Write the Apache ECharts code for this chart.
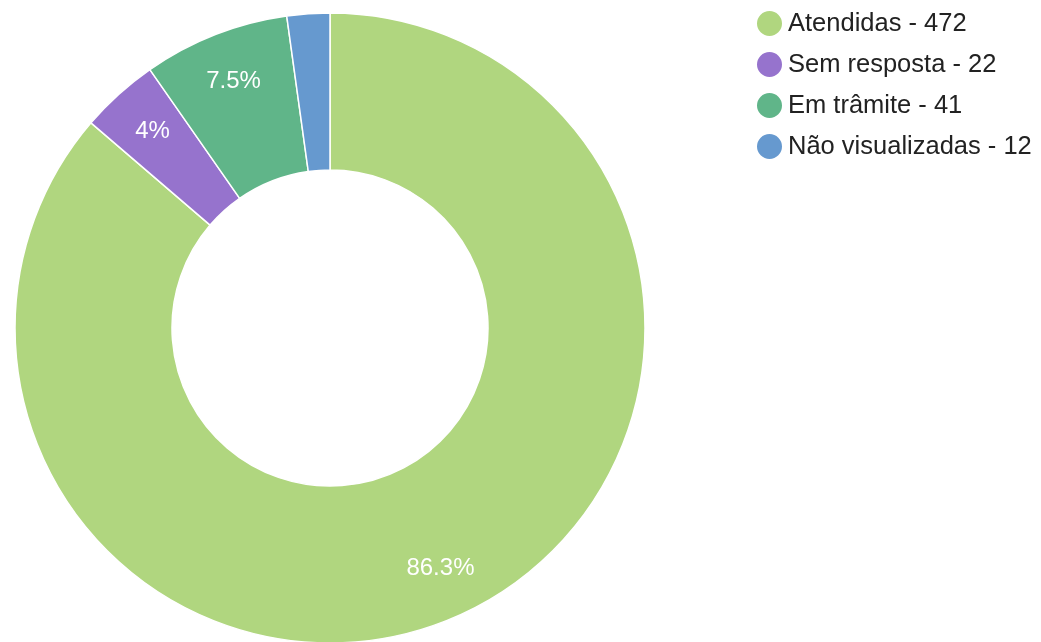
<!DOCTYPE html>
<html>
<head>
<meta charset="utf-8">
<script src="https://cdn.jsdelivr.net/npm/echarts@6/dist/echarts.min.js"></script>
<style>
  html, body { margin: 0; padding: 0; background: #fff; }
  #chart { width: 1041px; height: 642px; }
</style>
</head>
<body>
<div id="chart"></div>
<script>
var categories = ['Atendidas', 'Sem resposta', 'Em trâmite', 'Não visualizadas'];
var values = [472, 22, 41, 12];
var colors = ['#b0d67f', '#9673cd', '#60b589', '#6699cf'];

var total = values.reduce(function (a, b) { return a + b; }, 0);
var pieData = categories.map(function (c, i) {
    return { name: c, value: values[i], itemStyle: { color: colors[i] } };
});
var labelData = categories.map(function (c, i) {
    return { name: c, value: values[i] };
});

function pct(v) {
    return (Math.round(v / total * 1000) / 10) + '%';
}

var container = document.getElementById('chart');
var opts = {
    animation: false,
    legend: {
        orient: 'vertical',
        left: 750,
        top: 4,
        icon: 'circle',
        itemWidth: 27,
        itemHeight: 27,
        itemGap: 12,
        data: categories,
        formatter: function (name) {
            return name + ' - ' + values[categories.indexOf(name)];
        },
        textStyle: { fontFamily: 'Liberation Sans, Arial', fontSize: 25.5, lineHeight: 26, color: '#222' }
    },
    series: [
        {
            type: 'pie',
            center: [330, 328],
            radius: [158, 315],
            startAngle: 90,
            clockwise: true,
            label: { show: false },
            labelLine: { show: false },
            itemStyle: { borderColor: '#fff', borderWidth: 1.5 },
            emphasis: { disabled: true },
            data: pieData
        },
        {
            // label-only ring so percentages sit a bit outward like the reference
            type: 'pie',
            center: [330, 328],
            radius: [208, 315],
            startAngle: 90,
            clockwise: true,
            silent: true,
            itemStyle: { color: 'rgba(0,0,0,0)' },
            emphasis: { disabled: true },
            label: {
                show: true,
                position: 'inside',
                color: '#fff',
                fontFamily: 'Liberation Sans, Arial',
                fontSize: 24,
                formatter: function (p) {
                    return p.value / total < 0.03 ? '' : pct(p.value);
                }
            },
            labelLine: { show: false },
            data: labelData
        }
    ]
};
echarts.init(container).setOption(opts);
</script>
</body>
</html>
